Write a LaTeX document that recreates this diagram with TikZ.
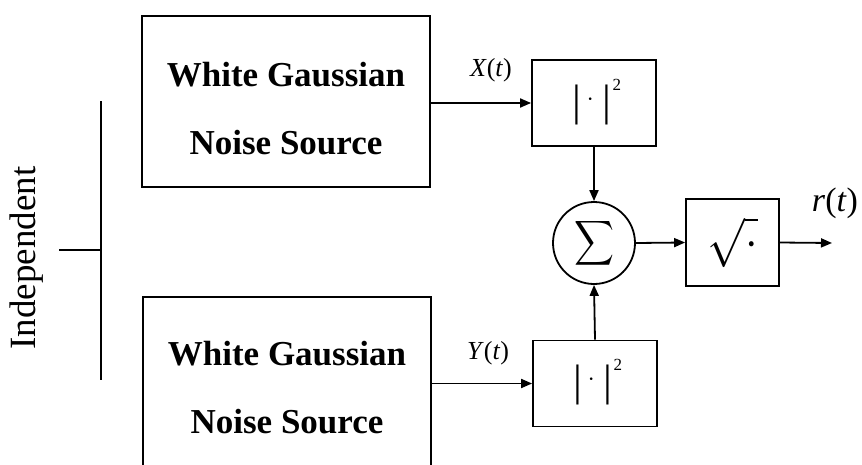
\documentclass[tikz,border=0pt]{standalone}
\usepackage{fix-cm}
\usepackage{amsmath}
\usepackage{fontspec}
\setmainfont{Liberation Serif}
\usetikzlibrary{arrows.meta}
\newcommand{\absq}{{\fontsize{44}{48}\selectfont |\hspace{5pt}\raisebox{9pt}{\fontsize{22}{24}\selectfont ·}\hspace{9pt}|}\hspace{1pt}\raisebox{25pt}{\fontsize{17}{20}\selectfont 2}}
\begin{document}
\begin{tikzpicture}[x=1pt,y=-1pt,
  line width=1.8pt,
  srcbox/.style={draw, minimum width=288pt, minimum height=171pt, inner sep=0pt},
  srctext/.style={font=\fontsize{35}{42}\selectfont\bfseries, inner sep=0pt},
  sqbox/.style={draw, minimum width=124pt, minimum height=86pt, inner sep=0pt},
  sqtext/.style={inner sep=0pt},
  rootbox/.style={draw, minimum width=93pt, minimum height=87pt, inner sep=0pt},
  sumnode/.style={draw, circle, minimum size=82pt, inner sep=0pt},
  sig/.style={font=\fontsize{26}{30}\selectfont},
  arr/.style={-{Triangle[length=11pt,width=9pt]}}]
\useasboundingbox (0,0) rectangle (862,464);
\node[srcbox] (src1) at (286,101.5) {};
\node[srcbox] (src2) at (287,382.5) {};
\node[srctext] (t1a) at (286,75) {White Gaussian};
\node[srctext] (t1b) at (286,143) {Noise Source};
\node[srctext] (t2a) at (287,354) {White Gaussian};
\node[srctext] (t2b) at (287,422) {Noise Source};
\node[sqbox] (sq1) at (594,103) {};
\node[sqbox] (sq2) at (595,383.5) {};
\node[sqtext] (q1) at (597,102) {\absq};
\node[sqtext] (q2) at (598,382.5) {\absq};
\node[sumnode] (sum) at (594,243) {\resizebox*{40pt}{50pt}{$\displaystyle\sum$}};
\node[rootbox] (root) at (732.5,242.5) {\resizebox*{50pt}{51pt}{$\sqrt{\cdot}$}};
\coordinate (out) at (832,243);
\node[sig] (xl) at (491,70) {\textit{X}(\textit{t})};
\node[sig] (yl) at (488,353) {\textit{Y}(\textit{t})};
\node[font=\fontsize{34}{40}\selectfont] (rl) at (835,203) {\textit{r}(\textit{t})};
\node[font=\fontsize{37}{44}\selectfont, rotate=90] (ind) at (27,258) {Independent};
\coordinate (bt) at (101,101);
\coordinate (bb) at (101,380);
\coordinate (bm) at (101,250);
\coordinate (bl) at (59,250);
\draw (bt) -- (bb);
\draw (bl) -- (bm);
\draw[arr] (src1.east |- sq1.west) -- (sq1.west);
\draw[arr] (src2.east |- sq2.west) -- (sq2.west);
\draw[arr] (sq1.south) -- (sum.north);
\draw[arr] (sq2.north) -- (sum.south);
\draw[arr] (sum.east) -- (root.west);
\draw[arr] (root.east) -- (out);
\end{tikzpicture}
\end{document}
